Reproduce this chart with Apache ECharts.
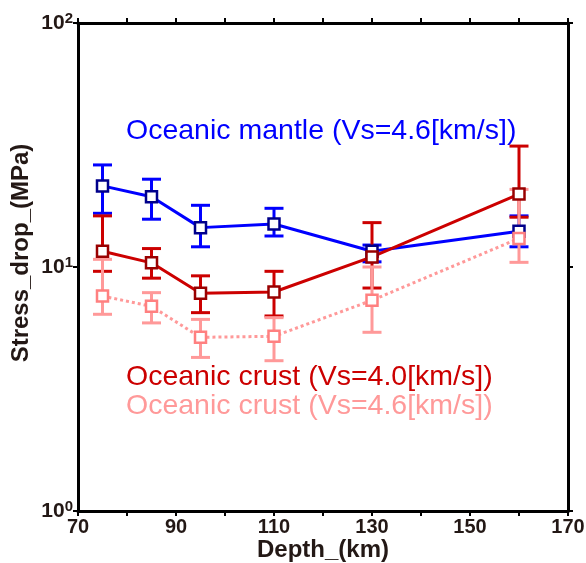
<!DOCTYPE html>
<html><head><meta charset="utf-8">
<script src="https://cdn.jsdelivr.net/npm/echarts@6/dist/echarts.min.js"></script>
<style>html,body{margin:0;padding:0;background:#fff}#c{width:586px;height:563px}</style>
</head><body><div id="c"></div>
<script>
const depths = [75, 85, 95, 110, 130, 160];
const mantle46 = [21.5, 19.4, 14.5, 15.0, 11.6, 14.0];
const mantle46Low = [16.6, 15.7, 12.1, 13.4, 10.5, 12.1];
const mantle46High = [26.2, 22.9, 17.9, 17.4, 12.3, 16.2];
const crust40 = [11.6, 10.4, 7.8, 7.9, 11.0, 19.9];
const crust40Low = [9.6, 9.0, 6.5, 6.3, 8.2, 16.0];
const crust40High = [16.2, 11.9, 9.2, 9.6, 15.2, 31.3];
const crust46 = [7.6, 6.9, 5.15, 5.2, 7.3, 13.1];
const crust46Low = [6.4, 5.9, 4.26, 4.13, 5.4, 10.45];
const crust46High = [10.75, 7.85, 6.1, 6.2, 10.0, 20.8];
const xTicks = [70, 90, 110, 130, 150, 170];
const yTicks = [1, 10, 100];

const font = 'Liberation Sans';
function errData(lo, hi) { return depths.map((d, i) => [d, lo[i], hi[i]]); }
function errSeries(lo, hi, color) {
  return {
    type: 'custom', data: errData(lo, hi), xAxisIndex: 0, yAxisIndex: 0, silent: true,
    renderItem: function (params, api) {
      const x = api.value(0);
      const p1 = api.coord([x, api.value(1)]);
      const p2 = api.coord([x, api.value(2)]);
      const w = 9.5;
      const st = { stroke: color, lineWidth: 3 };
      return { type: 'group', children: [
        { type: 'line', shape: { x1: p1[0], y1: p1[1], x2: p2[0], y2: p2[1] }, style: st },
        { type: 'line', shape: { x1: p1[0] - w, y1: p1[1], x2: p1[0] + w, y2: p1[1] }, style: st },
        { type: 'line', shape: { x1: p2[0] - w, y1: p2[1], x2: p2[0] + w, y2: p2[1] }, style: st }
      ]};
    }
  };
}
function lineSeries(vals, color, border, dotted) {
  return {
    type: 'line', data: depths.map((d, i) => [d, vals[i]]), symbol: 'rect', symbolSize: 11,
    lineStyle: { color: color, width: 3, type: dotted ? [3, 3] : 'solid' },
    itemStyle: { color: '#fff', borderColor: border, borderWidth: 2.5 },
    emphasis: { disabled: true }, animation: false, z: 3
  };
}
const tickLabel = v => '{b|10}{s|' + Math.round(Math.log10(v)) + '}';
const chart = echarts.init(document.getElementById('c'));
chart.setOption({
  animation: false,
  grid: { left: 78, right: 18, top: 23, bottom: 52, containLabel: false, outerBoundsMode: 'none' },
  xAxis: [{
    type: 'value', min: 70, max: 170, interval: 10, position: 'bottom',
    name: 'Depth_(km)', nameLocation: 'middle', nameGap: 27, nameMoveOverlap: false,
    nameTextStyle: { fontFamily: font, fontWeight: 'bold', fontSize: 24, color: '#231815' },
    axisLine: { lineStyle: { color: '#000', width: 3 } },
    axisTick: { lineStyle: { color: '#000', width: 2 }, length: 5 },
    splitLine: { show: false },
    axisLabel: { fontFamily: font, fontWeight: 'bold', fontSize: 20, color: '#231815', margin: 6,
      formatter: v => (xTicks.indexOf(v) >= 0 ? String(v) : '') }
  }, {
    type: 'value', min: 70, max: 170, interval: 10, position: 'top',
    axisLine: { lineStyle: { color: '#000', width: 3 } },
    axisTick: { lineStyle: { color: '#000', width: 2 }, length: 5 },
    axisLabel: { show: false }, splitLine: { show: false }
  }],
  yAxis: [{
    type: 'log', logBase: 10, min: 1, max: 100, position: 'left',
    name: 'Stress_drop_(MPa)', nameLocation: 'middle', nameGap: 45, nameMoveOverlap: false,
    nameTextStyle: { fontFamily: font, fontWeight: 'bold', fontSize: 24, color: '#231815', padding: [0, 0, 0, 28] },
    axisLine: { lineStyle: { color: '#000', width: 3 } },
    axisTick: { lineStyle: { color: '#000', width: 2 }, length: 5 },
    minorTick: { show: false }, splitLine: { show: false },
    axisLabel: { formatter: v => (yTicks.indexOf(Math.round(v)) >= 0 ? tickLabel(v) : ''), margin: 5,
      rich: { b: { fontFamily: font, fontWeight: 'bold', fontSize: 21, color: '#231815' },
              s: { fontFamily: font, fontWeight: 'bold', fontSize: 15, color: '#231815', verticalAlign: 'top', padding: [0, 0, 8, 0] } } }
  }, {
    type: 'log', logBase: 10, min: 1, max: 100, position: 'right',
    axisLine: { lineStyle: { color: '#000', width: 3 } },
    axisTick: { lineStyle: { color: '#000', width: 2 }, length: 5 },
    axisLabel: { show: false }, splitLine: { show: false }
  }],
  graphic: [
    { type: 'text', left: 126, top: 117, style: { text: 'Oceanic mantle (Vs=4.6[km/s])', fontFamily: font, fontSize: 28.5, fill: '#0000ff' } },
    { type: 'text', left: 126, top: 363, style: { text: 'Oceanic crust (Vs=4.0[km/s])', fontFamily: font, fontSize: 28.5, fill: '#cc0000' } },
    { type: 'text', left: 126, top: 392, style: { text: 'Oceanic crust (Vs=4.6[km/s])', fontFamily: font, fontSize: 28.5, fill: '#ff9999' } }
  ],
  series: [
    errSeries(mantle46Low, mantle46High, '#0000ff'),
    lineSeries(mantle46, '#0000ff', '#00008b', false),
    errSeries(crust40Low, crust40High, '#cc0000'),
    lineSeries(crust40, '#cc0000', '#990000', false),
    errSeries(crust46Low, crust46High, '#ff9999'),
    lineSeries(crust46, '#ff9999', '#ff8080', true)
  ]
});
</script></body></html>
